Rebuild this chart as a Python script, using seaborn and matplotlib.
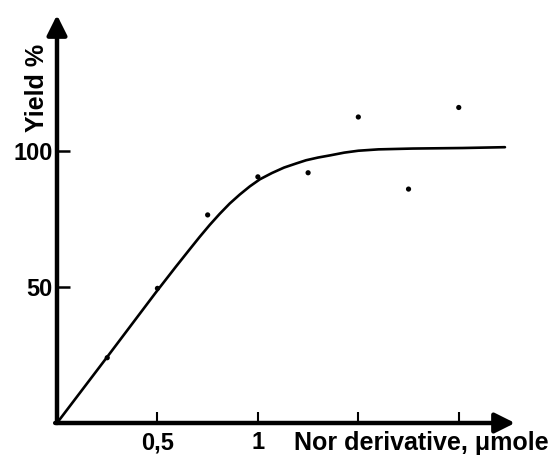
import matplotlib
matplotlib.use("Agg")
import matplotlib.pyplot as plt
import seaborn as sns
import pandas as pd

# measured points
pt_x = [0.25, 0.5, 0.75, 1.0, 1.25, 1.5, 1.75, 2.0]
pt_y = [24, 49.5, 76.5, 90.5, 92, 112.5, 86, 116]

# fitted curve
curve_x = [0.0, 0.25, 0.49, 0.59, 0.66, 0.71, 0.76, 0.81, 0.86, 0.91, 0.96, 1.01, 1.07,
           1.13, 1.19, 1.24, 1.30, 1.36, 1.43, 1.5, 1.6, 1.77, 2.02, 2.23]
curve_y = [0.0, 24.3, 47.8, 57.3, 63.8, 68.4, 72.8, 76.9, 80.7, 84.0, 87.0, 89.6, 91.9,
           93.9, 95.4, 96.6, 97.6, 98.4, 99.4, 100.1, 100.6, 100.9, 101.1, 101.4]

xtick_pos = [0.5, 1.0, 1.5, 2.0]
xtick_lab = ["0,5", "1", "", ""]
ytick_pos = [50, 100]
ytick_lab = ["50", "100"]

sns.set_style("white")
plt.rcParams["font.family"] = ["Liberation Sans", "DejaVu Sans"]
plt.rcParams["text.color"] = "black"

fig = plt.figure(figsize=(5.49, 4.57), dpi=100)
ax = fig.add_axes([57 / 549, 1 - 423 / 457, (515 - 57) / 549, 408 / 457])

pts = pd.DataFrame({"x": pt_x, "y": pt_y})
cur = pd.DataFrame({"x": curve_x, "y": curve_y})
sns.lineplot(data=cur, x="x", y="y", ax=ax, color="black", linewidth=1.9, sort=True)
sns.scatterplot(data=pts, x="x", y="y", ax=ax, color="black", s=14, edgecolor="none")

ax.set_xlim(0, 2.28)
ax.set_ylim(0, 150)
for s in ax.spines.values():
    s.set_visible(False)

ax.set_xticks(xtick_pos)
ax.set_xticklabels(xtick_lab, fontsize=17, fontweight="bold", color="black")
ax.set_yticks(ytick_pos)
ax.set_yticklabels(ytick_lab, fontsize=17, fontweight="bold", color="black")
ax.tick_params(axis="x", bottom=True, direction="in", length=8, width=1.5, pad=6,
               color="black", labelcolor="black")
ax.tick_params(axis="y", left=True, direction="in", length=9, width=1.8, pad=3,
               color="black", labelcolor="black")
ax.set_xlabel("")
ax.set_ylabel("")

arrow = dict(arrowstyle="-|>", lw=3.2, color="black", mutation_scale=30,
             shrinkA=0, shrinkB=0)
ax.annotate("", xy=(0, 1.0), xytext=(0, 0), xycoords="axes fraction",
            arrowprops=arrow, annotation_clip=False)
ax.annotate("", xy=(1.0, 0), xytext=(-0.004, 0), xycoords="axes fraction",
            arrowprops=arrow, annotation_clip=False)

fig.text(294 / 549, 1 - 443 / 457, "Nor derivative, μmole", fontsize=18,
         fontweight="bold", ha="left", va="center", color="black")
fig.text(37 / 549, 1 - 88 / 457, "Yield %", fontsize=18, fontweight="bold",
         rotation=90, ha="center", va="center", color="black")

fig.savefig("out.png", dpi=100)
